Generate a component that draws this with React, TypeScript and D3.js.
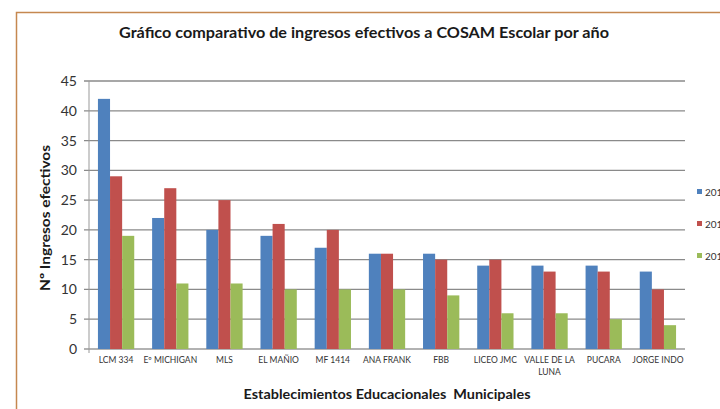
import React from "react";
import * as d3 from "d3";

const categories = ["LCM 334", "Eº MICHIGAN", "MLS", "EL MAÑIO", "MF 1414", "ANA FRANK", "FBB", "LICEO JMC", "VALLE DE LA LUNA", "PUCARA", "JORGE INDO"];
const series = ["2017", "2018", "2019"];
const values2017 = [42, 22, 20, 19, 17, 16, 16, 14, 14, 14, 13];
const values2018 = [29, 27, 25, 21, 20, 16, 15, 15, 13, 13, 10];
const values2019 = [19, 11, 11, 10, 10, 10, 9, 6, 6, 5, 4];
const yTicks = [0, 5, 10, 15, 20, 25, 30, 35, 40, 45];
const colors = ["#4F81BD", "#C0504D", "#9BBB59"];

const W = 720, H = 409;
const left = 89, right = 685, top = 81, bottom = 349;

export default function App() {
  const data = [values2017, values2018, values2019];
  const x = d3.scaleBand().domain(categories).range([left, right]).paddingInner(0.33).paddingOuter(0.165);
  const xs = d3.scaleBand().domain(series).range([0, x.bandwidth()]);
  const y = d3.scaleLinear().domain([0, 45]).range([bottom, top]);
  const font = "Lato, 'Open Sans', sans-serif";
  const wrap = (s: string) => (s === "VALLE DE LA LUNA" ? ["VALLE DE LA", "LUNA"] : [s]);
  return (
    <svg width={W} height={H} style={{ position: "absolute", left: 0, top: 0, background: "#fff" }} fontFamily={font}>
      <rect x={0} y={0} width={W} height={H} fill="#fff" />
      <path d={`M16.5,${H} V12.5 H${W}`} fill="none" stroke="#C58850" strokeWidth={1.5} />
      <text x={364} y={38} textAnchor="middle" fontSize={16} fontWeight="bold" fill="#1a1a1a" textLength={490} lengthAdjust="spacingAndGlyphs">Gráfico comparativo de ingresos efectivos a COSAM Escolar por año</text>
      {yTicks.map(t => (
        <g key={t}>
          <line x1={left - 5} x2={right} y1={y(t)} y2={y(t)} stroke={t === 0 ? "#999" : "#8a8a8a"} strokeWidth={1.3} />
          <text x={77} y={y(t) + 5} textAnchor="end" fontSize={14} fill="#333">{t}</text>
        </g>
      ))}
      <line x1={left} x2={left} y1={top} y2={bottom + 4} stroke="#999" strokeWidth={1} />
      {categories.map((c, i) => (
        <g key={c}>
          {series.map((s, j) => (
            <rect key={s} x={x(c)! + xs(s)!} y={y(data[j][i])} width={xs.bandwidth()} height={bottom - y(data[j][i])} fill={colors[j]} />
          ))}
          {wrap(c).map((line, k) => (
            <text key={k} x={x(c)! + x.bandwidth() / 2} y={363 + k * 12} textAnchor="middle" fontSize={8.5} fill="#333">{line}</text>
          ))}
        </g>
      ))}
      {series.map((s, j) => (
        <g key={s}>
          <rect x={697} y={189 + j * 32} width={5} height={5} fill={colors[j]} />
          <text x={705} y={196 + j * 32} fontSize={10} fill="#333">{s}</text>
        </g>
      ))}
      <text transform={`translate(50,218) rotate(-90)`} textAnchor="middle" fontSize={14} fontWeight="bold" fill="#1a1a1a" textLength={146} lengthAdjust="spacingAndGlyphs">Nº Ingresos efectivos</text>
      <text x={387} y={399} textAnchor="middle" fontSize={14} fontWeight="bold" fill="#1a1a1a" style={{ whiteSpace: "pre" }} textLength={287} lengthAdjust="spacingAndGlyphs">Establecimientos Educacionales  Municipales</text>
    </svg>
  );
}
